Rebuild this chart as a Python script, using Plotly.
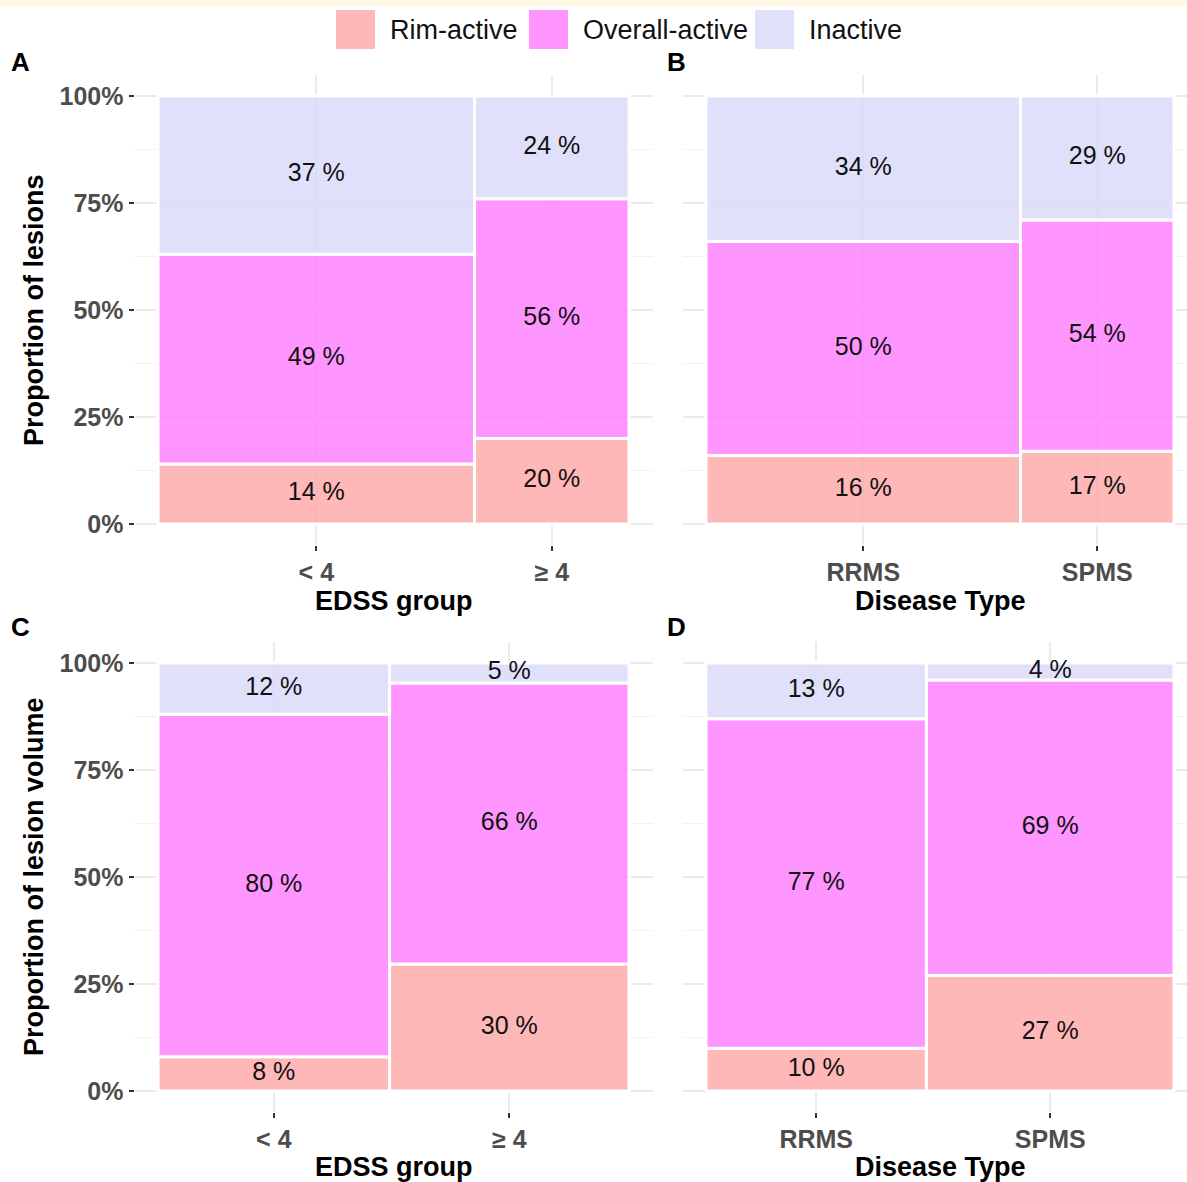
import plotly.graph_objects as go

# ---- data -------------------------------------------------------------
categories = ["Rim-active", "Overall-active", "Inactive"]
edss_groups = ["< 4", "≥ 4"]
disease_types = ["RRMS", "SPMS"]

# A: proportion of lesions by EDSS group (bar width = share of lesions)
lesions_edss_share = [0.672, 0.328]
lesions_edss_rim = [14, 20]
lesions_edss_overall = [49, 56]
lesions_edss_inactive = [37, 24]

# B: proportion of lesions by disease type
lesions_type_share = [0.672, 0.328]
lesions_type_rim = [16, 17]
lesions_type_overall = [50, 54]
lesions_type_inactive = [34, 29]

# C: proportion of lesion volume by EDSS group
volume_edss_share = [0.4915, 0.5085]
volume_edss_rim = [8, 29.7]
volume_edss_overall = [80, 65.6]
volume_edss_inactive = [12, 4.7]

# D: proportion of lesion volume by disease type
volume_type_share = [0.471, 0.529]
volume_type_rim = [10, 27]
volume_type_overall = [77, 69]
volume_type_inactive = [13, 4]

y_tick_values = [0, 25, 50, 75, 100]
y_tick_labels = ["0%", "25%", "50%", "75%", "100%"]

# ---- styling ----------------------------------------------------------
W, H = 1187, 1182
FONT = "Liberation Sans, Arial, Helvetica, sans-serif"
fills = {
    "Rim-active": "rgba(255,171,171,0.85)",
    "Overall-active": "rgba(255,131,255,0.85)",
    "Inactive": "rgba(219,219,249,0.85)",
}


def px_x(p):
    return p / W


def px_y(p):
    return 1 - p / H


panels = [
    dict(letter="A", n="", groups=edss_groups, shares=lesions_edss_share,
         values=[lesions_edss_rim, lesions_edss_overall, lesions_edss_inactive],
         xdom=(134.5, 652.6), xr=(-0.05, 1.05), ydom=(545.4, 74.6),
         xtitle="EDSS group", ylabels=True),
    dict(letter="B", n="2", groups=disease_types, shares=lesions_type_share,
         values=[lesions_type_rim, lesions_type_overall, lesions_type_inactive],
         xdom=(682.6, 1187), xr=(-0.05, 1.0278), ydom=(545.4, 74.6),
         xtitle="Disease Type", ylabels=False),
    dict(letter="C", n="3", groups=edss_groups, shares=volume_edss_share,
         values=[volume_edss_rim, volume_edss_overall, volume_edss_inactive],
         xdom=(134.5, 652.6), xr=(-0.05, 1.05), ydom=(1112.4, 641.6),
         xtitle="EDSS group", ylabels=True),
    dict(letter="D", n="4", groups=disease_types, shares=volume_type_share,
         values=[volume_type_rim, volume_type_overall, volume_type_inactive],
         xdom=(682.6, 1187), xr=(-0.05, 1.0278), ydom=(1112.4, 641.6),
         xtitle="Disease Type", ylabels=False),
]

fig = go.Figure()
layout_axes = {}
annotations = []


def note(x, y, text, size, color="black", angle=0, xanchor="center"):
    annotations.append(dict(
        x=px_x(x), y=px_y(y), xref="paper", yref="paper",
        xanchor=xanchor, yanchor="middle", text=text, textangle=angle,
        showarrow=False, font=dict(family=FONT, size=size, color=color),
    ))


for p in panels:
    xa, ya = "x" + p["n"], "y" + p["n"]
    shares = p["shares"]
    lefts = [sum(shares[:i]) for i in range(len(shares))]
    centers = [l + s / 2 for l, s in zip(lefts, shares)]
    bases = [0.0] * len(shares)
    for cat, vals in zip(categories, p["values"]):
        fig.add_trace(go.Bar(
            x=centers, y=vals, base=bases[:], width=shares,
            marker=dict(color=fills[cat], line=dict(color="white", width=3)),
            xaxis=xa, yaxis=ya, showlegend=False, hoverinfo="skip",
        ))
        mids = [b + v / 2 for b, v in zip(bases, vals)]
        fig.add_trace(go.Scatter(
            x=centers, y=mids, mode="text",
            text=[f"{v:.0f} %" for v in vals],
            textfont=dict(family=FONT, size=25, color="#111111"),
            xaxis=xa, yaxis=ya, showlegend=False, hoverinfo="skip",
        ))
        bases = [b + v for b, v in zip(bases, vals)]

    layout_axes["xaxis" + p["n"]] = dict(
        domain=[px_x(p["xdom"][0]), px_x(p["xdom"][1])],
        range=list(p["xr"]), anchor=ya,
        tickmode="array", tickvals=centers, ticktext=p["groups"],
        ticks="outside", ticklen=5, tickwidth=1.5, tickcolor="#333333",
        tickfont=dict(family=FONT, size=25, color="#4d4d4d", weight="bold"),
        showgrid=True, gridcolor="#ebebeb", gridwidth=1.5,
        zeroline=False, showline=False, fixedrange=True,
    )
    layout_axes["yaxis" + p["n"]] = dict(
        domain=[px_y(p["ydom"][0]), px_y(p["ydom"][1])],
        range=[-5, 105], anchor=xa,
        tickmode="array", tickvals=y_tick_values, ticktext=y_tick_labels,
        showticklabels=p["ylabels"],
        ticks="outside" if p["ylabels"] else "",
        ticklen=5, tickwidth=1.5, tickcolor="#333333",
        tickfont=dict(family=FONT, size=25, color="#4d4d4d", weight="bold"),
        showgrid=True, gridcolor="#ebebeb", gridwidth=1.5,
        minor=dict(tickmode="linear", tick0=12.5, dtick=25, showgrid=True,
                   gridcolor="#f2f2f2", gridwidth=1, ticks=""),
        zeroline=False, showline=False, fixedrange=True,
    )

    # panel tag
    tag_x = 20 if p["letter"] in "AC" else 676
    tag_y = 62 if p["letter"] in "AB" else 627
    note(tag_x, tag_y, f"<b>{p['letter']}</b>", 26)
    # x axis title, centred on the full panel width
    title_cx = 393.5 if p["letter"] in "AC" else 940
    title_y = 601 if p["letter"] in "AB" else 1167
    note(title_cx, title_y, f"<b>{p['xtitle']}</b>", 27)

# y axis titles
note(34, 310, "<b>Proportion of lesions</b>", 27, angle=-90)
note(34, 877, "<b>Proportion of lesion volume</b>", 27, angle=-90)

# legend: coloured keys with labels
shapes = [dict(type="rect", xref="paper", yref="paper",
               x0=0, x1=1, y0=px_y(6), y1=1,
               fillcolor="#fef8e4", line=dict(width=0), layer="below")]
key_left = [336, 529, 755]
for cat, kx in zip(categories, key_left):
    shapes.append(dict(
        type="rect", xref="paper", yref="paper",
        x0=px_x(kx), x1=px_x(kx + 39), y0=px_y(49), y1=px_y(10),
        fillcolor=fills[cat], line=dict(width=0),
    ))
    note(kx + 52, 30, cat, 27, color="#111111", xanchor="left")

fig.update_layout(
    width=W, height=H,
    margin=dict(l=0, r=0, t=0, b=0),
    paper_bgcolor="white", plot_bgcolor="white",
    barmode="overlay", showlegend=False,
    annotations=annotations, shapes=shapes,
    **layout_axes,
)

fig.write_html("out.html")
